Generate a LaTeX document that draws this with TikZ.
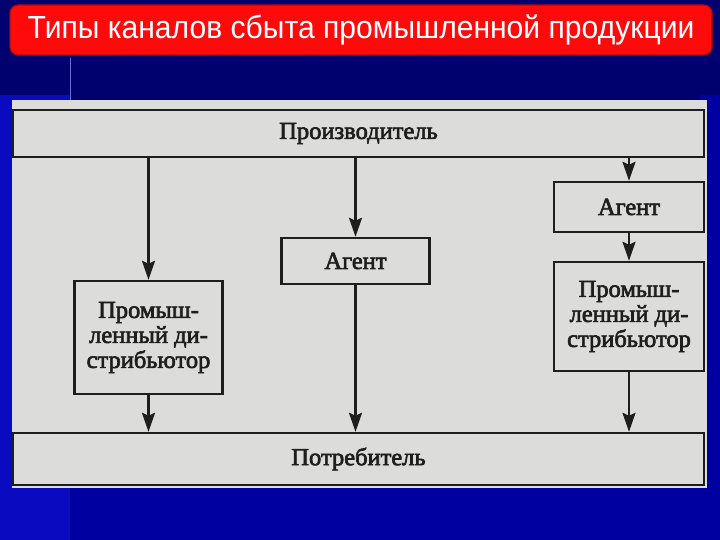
\documentclass[tikz,border=0pt]{standalone}
\usepackage{fontspec}
\setmainfont{Liberation Serif}
\newfontfamily\scanfont{Liberation Serif}[FakeBold=2.6]
\newfontfamily\titlefont{Liberation Sans}[FakeStretch=0.94]
\usetikzlibrary{arrows.meta, calc, positioning}
\definecolor{slidebg}{HTML}{00006E}
\definecolor{slideblue}{HTML}{0A0AC0}
\definecolor{slidemid}{HTML}{0000A0}
\definecolor{titlered}{HTML}{FF0A0A}
\definecolor{paper}{HTML}{DCDCDA}
\definecolor{ink}{HTML}{1E1E1E}
\tikzset{
  % titolo della diapositiva
  titlebar/.style={rounded corners=8pt, fill=titlered, draw=titlered!70!black,
    line width=1.2pt, minimum width=702pt, minimum height=50pt, inner sep=0pt,
    text=white, font=\titlefont\fontsize{32}{32}\selectfont},
  % scatola dello schema
  chbox/.style={draw=ink, line width=2.4pt, fill=paper, align=center, text=ink,
    inner sep=0pt, font=\scanfont\fontsize{24.5}{25}\selectfont},
  wide box/.style={chbox, minimum width=691pt},
  col box/.style={chbox, minimum width=148pt},
  % freccia del flusso
  flow/.style={draw=ink, line width=2.4pt,
    -{Stealth[length=19pt, width=13pt, inset=3pt]}},
}
\begin{document}
\begin{tikzpicture}[x=1pt, y=-1pt]
  \useasboundingbox (0,0) rectangle (720,540);
  % sfondo
  \fill[slidebg] (0,0) rectangle (720,540);
  \fill[slideblue] (0,95) rectangle (70,540);
  \fill[slidemid] (70,488) rectangle (720,540);
  \fill[slidemid] (700,95) rectangle (720,488);
  \draw[slideblue!60!white, line width=0.8pt] (70,58) -- (70,100);
  \node[titlebar] (title) at (361,30) {Типы каналов сбыта промышленной продукции};
  % foglio scansionato
  \fill[paper] (12,100) rectangle (707,488);
  \node[wide box, minimum height=47pt] (prod) at (358.5,133.5) {Производитель};
  \node[wide box, minimum height=52pt] (cons) at (358.5,459) {Потребитель};
  \node[col box, minimum height=113pt] (distL) at (148.5,337.5)
    {Промыш-\\ленный ди-\\стрибьютор};
  \node[col box, minimum height=46pt] (agentM) at (355.5,261) {Агент};
  \node[col box, minimum width=150pt, minimum height=50pt] (agentR) at (629,207) {Агент};
  \node[col box, minimum width=150pt, minimum height=109pt] (distR) at (629,316.5)
    {Промыш-\\ленный ди-\\стрибьютор};
  \draw[flow] (distL.north |- prod.south) -- (distL.north);
  \draw[flow] (distL.south) -- (distL.south |- cons.north);
  \draw[flow] (agentM.north |- prod.south) -- (agentM.north);
  \draw[flow] (agentM.south) -- (agentM.south |- cons.north);
  \draw[flow] (agentR.north |- prod.south) -- (agentR.north);
  \draw[flow] (agentR.south) -- (distR.north);
  \draw[flow] (distR.south) -- (distR.south |- cons.north);
\end{tikzpicture}
\end{document}
